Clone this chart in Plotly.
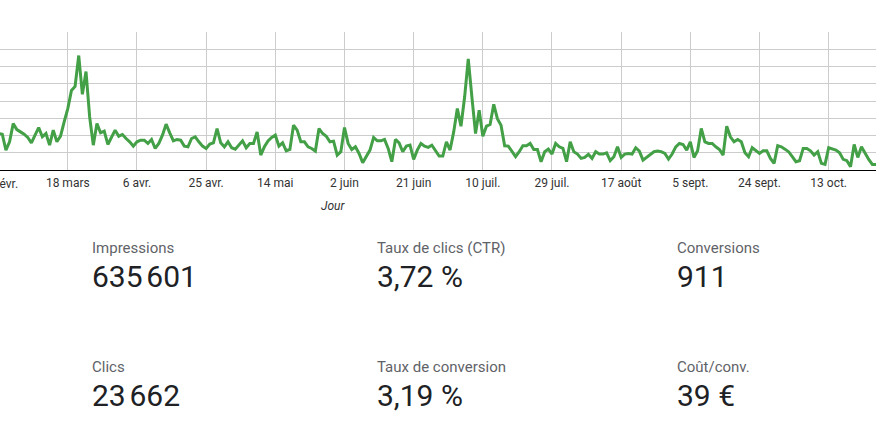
import pandas as pd
import plotly.graph_objects as go

# ---- data ----
start_date = "2019-02-27"
impressions = [
    4230, 4150, 2310, 3270, 5380, 4690, 4420, 4150, 3770, 3150,
    4040, 4920, 3850, 4230, 2880, 4620, 3270, 3920, 5580, 7120,
    9230, 9690, 13270, 8770, 11420, 6150, 2880, 5380, 4310, 4500,
    2960, 3730, 4620, 3920, 4120, 3650, 3270, 2770, 3270, 3460,
    3460, 3080, 3540, 2500, 3080, 4040, 5310, 4310, 3380, 3540,
    3460, 2770, 2690, 3650, 3850, 3270, 2770, 2500, 3000, 3150,
    4810, 3150, 2690, 3270, 2580, 2420, 2880, 3380, 2580, 3080,
    3080, 4420, 1730, 2690, 3380, 3770, 4040, 2770, 3150, 2230,
    2380, 5190, 4620, 3270, 3270, 2690, 2500, 2190, 4810, 4230,
    3920, 3270, 3350, 1730, 2120, 4920, 3080, 2380, 2690, 1920,
    850, 1540, 2310, 3770, 3380, 3380, 3540, 2500, 960, 3540,
    3150, 2120, 2770, 2880, 1230, 2310, 3080, 2770, 2620, 2880,
    2310, 1620, 1620, 3270, 2310, 4420, 7120, 5080, 8460, 12880,
    8460, 4230, 6920, 3920, 5080, 5270, 7620, 5960, 5190, 2810,
    2770, 2190, 1540, 2120, 2810, 2810, 3080, 2380, 2380, 960,
    2120, 2420, 1850, 3080, 2690, 2500, 960, 3270, 2120, 1850,
    1350, 1460, 1810, 1350, 2120, 1850, 1850, 2000, 1080, 1540,
    2690, 1460, 1850, 1920, 1850, 2580, 2190, 1150, 1460, 1730,
    2120, 2190, 2120, 1920, 1270, 1850, 2690, 3080, 2960, 2310,
    3270, 1460, 2230, 4810, 3270, 3080, 3080, 2690, 2380, 1730,
    5080, 3850, 3270, 3540, 3270, 2000, 1540, 2580, 2230, 1920,
    2230, 2230, 1350, 770, 2810, 2690, 2420, 2120, 1540, 960,
    1080, 2500, 2500, 2230, 1730, 2120, 770, 650, 2580, 2460,
    2310, 2000, 1230, 1080, 380, 2960, 1460, 2690, 1920, 1230,
    650, 650,
]
days = pd.date_range(start_date, periods=len(impressions), freq="D")

tick_dates = ["2019-02-27", "2019-03-18", "2019-04-06", "2019-04-25", "2019-05-14",
              "2019-06-02", "2019-06-21", "2019-07-10", "2019-07-29", "2019-08-17",
              "2019-09-05", "2019-09-24", "2019-10-13"]
tick_labels = ["27 févr.", "18 mars", "6 avr.", "25 avr.", "14 mai", "2 juin", "21 juin",
               "10 juil.", "29 juil.", "17 août", "5 sept.", "24 sept.", "13 oct."]

kpi_names = ["Impressions", "Taux de clics (CTR)", "Conversions",
             "Clics", "Taux de conversion", "Coût/conv."]
kpi_values = ["635\u202f601", "3,72\u00a0%", "911",
              "23\u202f662", "3,19\u00a0%", "39\u00a0€"]

# ---- layout geometry (pixels) ----
W, H = 895, 448
plot_left, plot_right = 0, 876
plot_top, plot_bottom = 31.7, 170.5
dom_w = plot_right - plot_left
dom_h = plot_bottom - plot_top


def px_x(px):
    return (px - plot_left) / dom_w


def px_y(py):
    return (plot_bottom - py) / dom_h


fig = go.Figure()
fig.add_trace(go.Scatter(
    x=days, y=impressions, mode="lines",
    line=dict(color="#43a047", width=3),
    hoverinfo="skip", showlegend=False,
))

fig.update_layout(
    width=W, height=H,
    margin=dict(l=plot_left, r=W - plot_right, t=plot_top, b=H - plot_bottom, pad=0),
    paper_bgcolor="white", plot_bgcolor="white",
    font=dict(family="Roboto, Arial, sans-serif", color="#333333", size=12),
    xaxis=dict(
        type="date",
        range=["2019-02-27 09:00", "2019-10-26 00:00"],
        tickmode="array", tickvals=tick_dates[1:], ticktext=tick_labels[1:],
        showgrid=True, gridcolor="#cccccc", gridwidth=1,
        showline=True, linecolor="#000000", linewidth=1.3,
        ticks="", tickfont=dict(size=12, color="#333333"), ticklabelstandoff=1,
        zeroline=False, fixedrange=True,
    ),
    yaxis=dict(
        range=[0, 16000], dtick=2000, showticklabels=False,
        showgrid=True, gridcolor="#cccccc", gridwidth=1,
        zeroline=False, showline=False, ticks="", fixedrange=True,
    ),
)

annotations = []
# clipped first tick label at the left edge
annotations.append(dict(
    text=tick_labels[0], xref="paper", yref="paper", x=px_x(-1.3), y=px_y(184.5),
    xanchor="center", yanchor="middle", showarrow=False,
    font=dict(size=12, color="#333333"),
))
# axis title
annotations.append(dict(
    text="<i>Jour</i>", xref="paper", yref="paper", x=px_x(333), y=px_y(207),
    xanchor="center", yanchor="middle", showarrow=False,
    font=dict(size=12, color="#333333"),
))

col_x = [90.3, 375.3, 675.3]
label_y = [248.5, 369]
value_y = [277.5, 397]
for i, (name, val) in enumerate(zip(kpi_names, kpi_values)):
    r, c = divmod(i, 3)
    annotations.append(dict(
        text=name, xref="paper", yref="paper", x=px_x(col_x[c]), y=px_y(label_y[r]),
        xanchor="left", yanchor="middle", showarrow=False,
        font=dict(size=15, color="#5f6368"),
    ))
    annotations.append(dict(
        text=val, xref="paper", yref="paper", x=px_x(col_x[c]), y=px_y(value_y[r]),
        xanchor="left", yanchor="middle", showarrow=False,
        font=dict(size=30, color="#202124"),
    ))

fig.update_layout(annotations=annotations)
fig.write_html(
    "out.html",
    config={"displayModeBar": False},
    post_script="document.body.style.margin='0';document.body.style.overflow='hidden';",
)
